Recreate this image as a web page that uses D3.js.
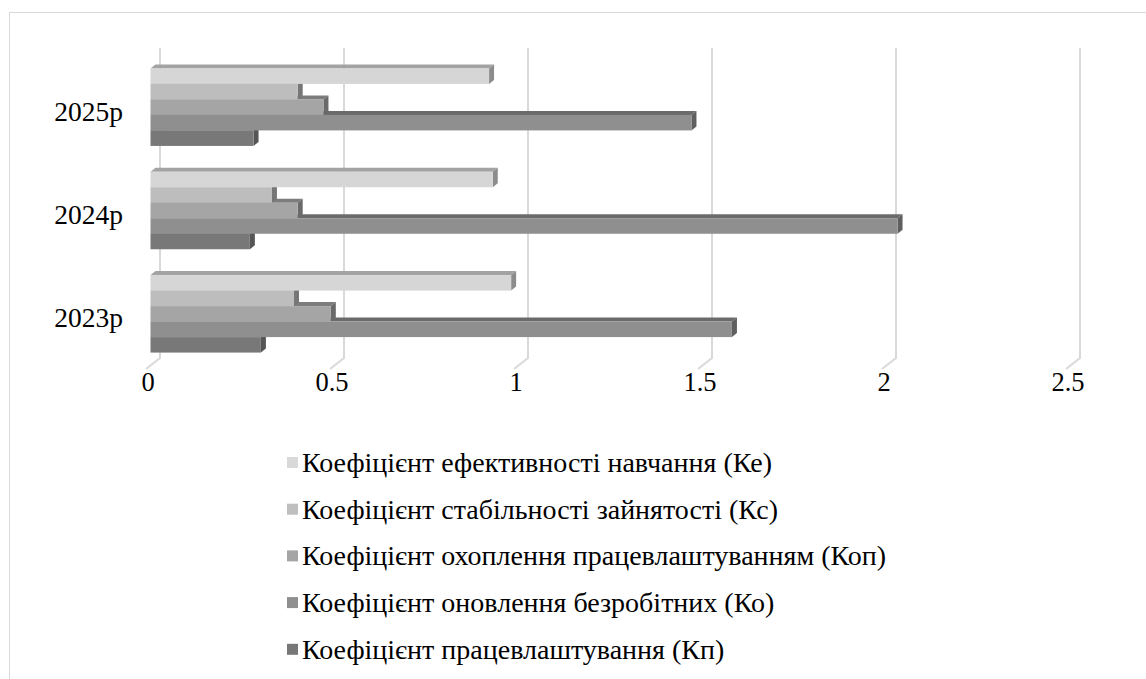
<!DOCTYPE html>
<html>
<head>
<meta charset="utf-8">
<script src="https://cdn.jsdelivr.net/npm/d3@7"></script>
</head>
<body style="margin:0">
<svg id="chart" width="1146" height="679"></svg>
<script>
// Years shown on the category axis (top to bottom)
const categories = ["2025р", "2024р", "2023р"];

// Series names, in legend order (top to bottom)
const seriesNames = [
  "Коефіцієнт ефективності навчання (Ке)",
  "Коефіцієнт стабільності зайнятості (Кс)",
  "Коефіцієнт охоплення працевлаштуванням (Коп)",
  "Коефіцієнт оновлення безробітних (Ко)",
  "Коефіцієнт працевлаштування (Кп)"
];

// Values per series, aligned with categories (2025, 2024, 2023)
const ke  = [0.92, 0.93, 0.98];
const kc  = [0.40, 0.33, 0.39];
const kop = [0.47, 0.40, 0.49];
const ko  = [1.47, 2.03, 1.58];
const kp  = [0.28, 0.27, 0.30];

const xTicks = [0, 0.5, 1, 1.5, 2, 2.5];
const xTickLabels = ["0", "0.5", "1", "1.5", "2", "2.5"];

const seriesValues = [ke, kc, kop, ko, kp];

const FONT = '"Liberation Serif"';

// Face colours: front, top, side
const palette = [
  { front: "#d6d6d6", top: "#a3a3a3", side: "#8c8c8c" },
  { front: "#bdbdbd", top: "#8d8d8d", side: "#767676" },
  { front: "#a5a5a5", top: "#7c7c7c", side: "#6a6a6a" },
  { front: "#8f8f8f", top: "#6b6b6b", side: "#5f5f5f" },
  { front: "#787878", top: "#5c5c5c", side: "#555555" }
];
const legendSwatch = ["#d9d9d9", "#bfbfbf", "#a5a5a5", "#8f8f8f", "#777777"];

const svg = d3.select("#chart");

svg.append("rect").attr("width", 1146).attr("height", 679).attr("fill", "#fff");

// Outer frame
svg.append("rect")
  .attr("x", 9.5).attr("y", 12.5)
  .attr("width", 1160).attr("height", 700)
  .attr("fill", "none").attr("stroke", "#d9d9d9").attr("stroke-width", 1);

// Front (floor edge) plane scales
const x = d3.scaleLinear().domain([0, 2.5]).range([146, 1066]);
const y = d3.scaleBand().domain(categories).range([59, 369])
  .paddingInner(0.25).paddingOuter(0.125);
const ySeries = d3.scaleBand().domain(d3.range(seriesNames.length))
  .range([0, y.bandwidth()]);

// Depth offsets
const wallDX = 14, wallDY = -11;     // front floor edge -> back wall
const barDX = 4.5, barDY = -3.5;     // front floor edge -> bar front face
const depthDX = 5, depthDY = -4;     // bar thickness in depth
const wallTop = 48;
const floorY = 369;

// Gridlines: back wall verticals plus floor diagonals
const grid = svg.append("g").attr("stroke", "#d9d9d9").attr("stroke-width", 2).attr("fill", "none");
xTicks.forEach(t => {
  const bx = x(t) + wallDX;
  grid.append("path")
    .attr("d", `M${bx},${wallTop} L${bx},${floorY + wallDY} L${x(t)},${floorY}`);
});

// Bars: draw from the bottom series upward so upper faces overlap lower tops
const bars = svg.append("g");
categories.forEach((cat, ci) => {
  for (let si = seriesNames.length - 1; si >= 0; si--) {
    const v = seriesValues[si][ci];
    const x0 = x(0) + barDX;
    const x1 = x(v) + barDX;
    const y0 = y(cat) + ySeries(si) + barDY;
    const y1 = y0 + ySeries.bandwidth();
    const c = palette[si];
    bars.append("path")
      .attr("d", `M${x0},${y0} L${x1},${y0} L${x1 + depthDX},${y0 + depthDY} L${x0 + depthDX},${y0 + depthDY}Z`)
      .attr("fill", c.top);
    bars.append("path")
      .attr("d", `M${x1},${y0} L${x1 + depthDX},${y0 + depthDY} L${x1 + depthDX},${y1 + depthDY} L${x1},${y1}Z`)
      .attr("fill", c.side);
    bars.append("rect")
      .attr("x", x0).attr("y", y0)
      .attr("width", x1 - x0).attr("height", y1 - y0)
      .attr("fill", c.front);
  }
});

// Category labels
svg.append("g").selectAll("text").data(categories).join("text")
  .attr("x", 123)
  .attr("y", d => y(d) + y.bandwidth() / 2 + 10)
  .attr("text-anchor", "end")
  .attr("font-size", 27.5)
  .style("font-family", FONT)
  .attr("fill", "#000")
  .text(d => d);

// Value axis labels
svg.append("g").selectAll("text").data(xTicks).join("text")
  .attr("x", d => x(d) + 2)
  .attr("y", 391)
  .attr("text-anchor", "middle")
  .attr("font-size", 26.5)
  .style("font-family", FONT)
  .attr("fill", "#000")
  .text((d, i) => xTickLabels[i]);

// Legend
const legendRows = svg.append("g").selectAll("g").data(seriesNames).join("g")
  .attr("transform", (d, i) => `translate(0,${463 + i * 46.7})`);
legendRows.append("rect")
  .attr("x", 287).attr("y", -6)
  .attr("width", 11).attr("height", 11)
  .attr("fill", (d, i) => legendSwatch[i]);
legendRows.append("text")
  .attr("x", 302).attr("y", 9)
  .attr("font-size", 28)
  .style("font-family", FONT)
  .attr("fill", "#000")
  .text(d => d);
</script>
</body>
</html>
